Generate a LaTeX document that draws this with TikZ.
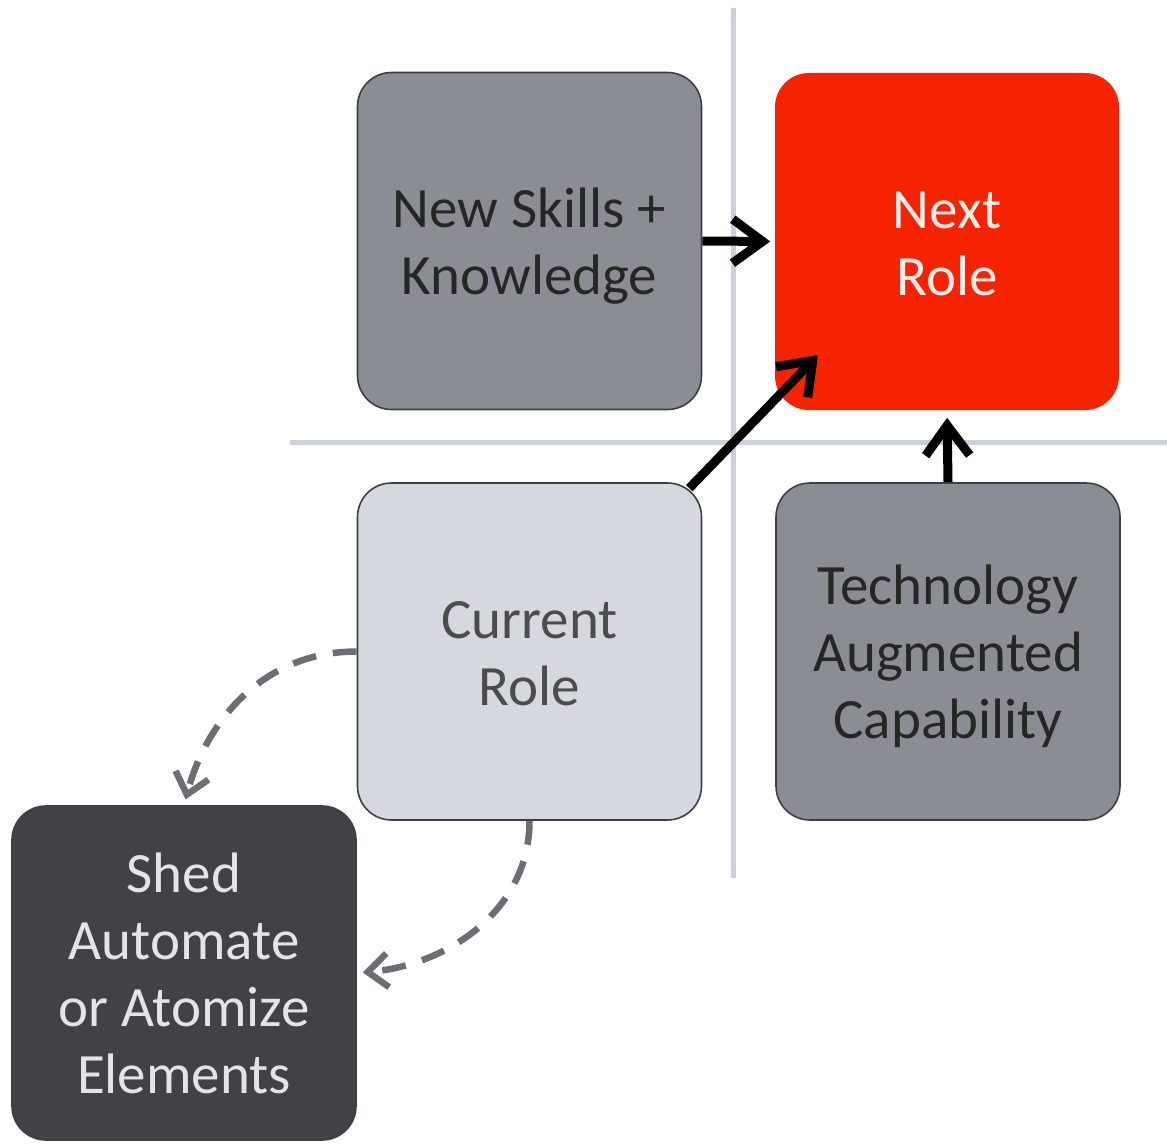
\documentclass[tikz,border=0pt]{standalone}
\usepackage{fontspec}
\setmainfont{Carlito}
\usetikzlibrary{arrows.meta,calc}
\definecolor{boxgray}{HTML}{8A8D93}
\definecolor{boxlight}{HTML}{D5D8DF}
\definecolor{boxdark}{HTML}{414246}
\definecolor{nextred}{HTML}{F52300}
\definecolor{edgegray}{HTML}{3E3F44}
\definecolor{rulegray}{HTML}{CBD0DA}
\definecolor{dashgray}{HTML}{6C6E74}
\definecolor{shedtext}{HTML}{E2E4E9}
\definecolor{nexttext}{HTML}{FBEDE8}
\newcommand{\rolelines}[1]{\raisebox{-7pt}[\height][\depth]{\begin{tabular}{@{}c@{}}#1\end{tabular}}}

\begin{document}
\begin{tikzpicture}[x=1pt,y=-1pt,
  role/.style={rounded corners=34pt, minimum width=344pt, minimum height=337pt,
    inner sep=0pt, line width=1.6pt, font=\fontsize{57}{67}\selectfont},
  push/.style={draw=black, line width=9pt, -{Straight Barb[length=30pt,width=44pt]}},
  drop/.style={draw=dashgray, line width=6.5pt, dash pattern=on 24pt off 17pt,
    -{Straight Barb[length=20pt,width=34pt]}},
  divider/.style={draw=rulegray, line width=5pt}]
\useasboundingbox[fill=white] (0,0) rectangle (1167,1145);
%Lines
\draw [divider] (733,8) -- (733,878);
\draw [divider] (290,442) -- (1167,442);
%Boxes
\node (NewSkills) [role, draw=edgegray, fill=boxgray, text=black!85] at (529.5,241) {\rolelines{New Skills +\\Knowledge}};
\node (NextRole) [role, fill=nextred, text=nexttext] at (947,241.5) {\rolelines{Next\\Role}};
\node (CurrentRole) [role, draw=edgegray, fill=boxlight, text=black!70] at (529.5,651.5) {\rolelines{Current\\Role}};
\node (TechCap) [role, draw=edgegray, fill=boxgray, text=black!85] at (948,651.5) {\rolelines{Technology\\Augmented\\Capability}};
\node (Shed) [role, draw=edgegray, fill=boxdark, text=shedtext, minimum height=334pt] at (184,973) {\rolelines{Shed\\Automate\\or Atomize\\Elements}};
%Arrows
\coordinate (CurrentOut) at ($(CurrentRole.north east)+(-13,6)$);
\coordinate (NextIn) at (818,355);
\draw [push, shorten >=4pt] (NewSkills.east) -- (NextRole.west);
\draw [push] (CurrentOut) -- (NextIn);
\draw [push, shorten >=7pt] (TechCap.north) -- (NextRole.south);
\draw [drop, shorten >=6pt] (CurrentRole.west) to[out=180,in=75] (Shed.north);
\draw [drop, shorten >=6pt] (CurrentRole.south) to[out=-90,in=5] (Shed.east);
\end{tikzpicture}
\end{document}
